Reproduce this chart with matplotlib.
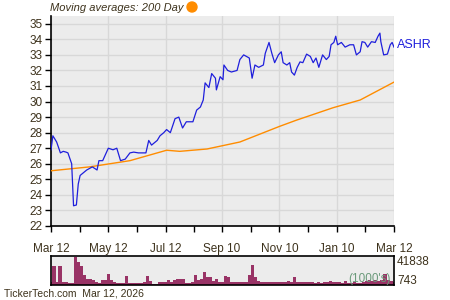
import matplotlib
matplotlib.use("Agg")
import matplotlib.pyplot as plt
import matplotlib.dates as mdates
import numpy as np
import pandas as pd

plt.rcParams['font.family'] = ['Liberation Sans', 'DejaVu Sans']

start = pd.Timestamp("2025-03-12")
end = pd.Timestamp("2026-03-12")

# Price series (day offset from start, closing price)
price_days = [0, 2, 6, 10, 13, 16, 18, 20, 22, 24, 27, 29, 31, 34, 38, 44, 49, 51, 55, 61,
              66, 70, 74, 79, 84, 88, 93, 101, 104, 107, 113, 116, 120, 123, 127, 132, 136, 140, 144, 151,
              155, 159, 162, 164, 168, 171, 175, 176, 180, 183, 184, 188, 192, 198, 201, 205, 211, 214, 217, 221,
              226, 228, 232, 235, 238, 242, 245, 247, 251, 254, 256, 259, 262, 265, 268, 272, 276, 279, 282, 285,
              289, 293, 296, 298, 301, 303, 305, 309, 313, 318, 322, 325, 329, 331, 334, 337, 341, 345, 348, 350,
              351, 354, 358, 361, 363, 365]
price_vals = [26.9, 27.8, 27.4, 26.7, 26.8, 26.75, 26.7, 26.35, 26.0, 23.3, 23.35, 24.7, 25.25, 25.4, 25.6, 25.8, 25.6, 26.2, 26.2, 27.0,
              26.9, 27.0, 26.2, 26.3, 26.7, 26.75, 26.7, 26.7, 27.5, 27.2, 27.5, 27.8, 28.0, 28.2, 28.0, 28.9, 29.0, 28.3, 28.7, 28.7,
              29.45, 29.65, 30.1, 31.2, 30.9, 31.8, 31.5, 30.75, 31.6, 31.4, 32.35, 32.0, 31.9, 32.0, 32.7, 33.0, 32.8, 31.5, 32.35, 32.2,
              32.35, 33.1, 33.8, 33.1, 32.5, 33.0, 33.2, 32.5, 32.35, 32.5, 31.9, 31.7, 32.2, 32.55, 32.5, 33.05, 32.9, 32.5, 32.8, 32.2,
              33.0, 32.7, 32.9, 33.65, 33.8, 34.2, 33.65, 33.8, 33.5, 33.65, 33.65, 33.0, 33.2, 33.85, 33.8, 33.5, 33.85, 33.8, 34.2, 34.4,
              33.85, 33.0, 33.05, 33.65, 33.8, 33.5]

# 200-day moving average
ma_days = [0, 41, 84, 123, 137, 166, 201, 243, 261, 300, 329, 365]
ma_vals = [25.55, 25.8, 26.2, 26.87, 26.8, 26.95, 27.4, 28.4, 28.8, 29.6, 30.1, 31.25]

# Volume (thousands), evenly sampled across the year
volume = [4500, 28400, 4500, 28400, 4500, 4500, 3000, 3000, 41838, 34400,
          28400, 14900, 9000, 9000, 7500, 4500, 3000, 7500, 7500, 16400,
          7500, 4500, 3000, 3000, 3000, 13400, 3000, 3000, 3000, 3000,
          3000, 4500, 13400, 6000, 1500, 1500, 4500, 4500, 4500, 7500,
          4500, 7500, 9000, 9000, 9000, 3000, 3000, 4500, 14900, 7500,
          9000, 19400, 12000, 12000, 6000, 9000, 4500, 4500, 13400, 12000,
          4500, 4500, 4500, 4500, 4500, 4500, 14900, 29900, 12000, 6000,
          4500, 4500, 4500, 4500, 4500, 4500, 4500, 4500, 4500, 6000,
          4500, 12000, 4500, 4500, 4500, 4500, 4500, 4500, 3000, 4500,
          3000, 4500, 4500, 6000, 4500, 4500, 4500, 3000, 6000, 3000,
          3000, 4500, 3000, 3000, 4500, 6000, 7500, 6000, 7500, 6000,
          7500, 16400, 7500, 6000, 4500]
vol_hi_label = "41838"
vol_lo_label = "743"

ticker = "ASHR"
tick_dates = ["2025-03-12", "2025-05-12", "2025-07-12", "2025-09-10", "2025-11-10", "2026-01-10", "2026-03-12"]
tick_labels = ["Mar 12", "May 12", "Jul 12", "Sep 10", "Nov 10", "Jan 10", "Mar 12"]
yticks = list(range(22, 36))

txt_col = "#3d321c"
bg = "#ececec"
grid_col = "#d8d8d8"

fig = plt.figure(figsize=(4.5, 3.0), dpi=100)
fig.patch.set_facecolor("white")

ax = fig.add_axes([51/450, 1-226/300, 343/450, 210/300])
ax.set_facecolor(bg)
pd_dates = [start + pd.Timedelta(days=d) for d in price_days]
ma_dates = [start + pd.Timedelta(days=d) for d in ma_days]
ax.plot(ma_dates, ma_vals, color="#ff8c00", lw=1.0, zorder=3)
ax.plot(pd_dates, price_vals, color="#1f1fdc", lw=0.9, zorder=4)
ax.set_xlim(start, end)
ax.set_ylim(22, 35.5)
ax.set_yticks(yticks)
tds = [pd.Timestamp(t) for t in tick_dates]
ax.set_xticks(tds)
ax.set_xticklabels(tick_labels)
mids = [tds[i] + (tds[i+1]-tds[i])/2 for i in range(len(tds)-1)]
ax.set_xticks(mids, minor=True)
ax.grid(True, which="major", color=grid_col, lw=1.0)
ax.set_axisbelow(True)
for s in ["top", "right"]:
    ax.spines[s].set_visible(False)
for s in ["left", "bottom"]:
    ax.spines[s].set_color("black")
    ax.spines[s].set_linewidth(1.2)
ax.tick_params(axis="y", direction="out", length=4, width=1, colors="black", labelcolor=txt_col, labelsize=8.5, pad=2)
ax.tick_params(axis="x", which="major", direction="out", length=4, width=1, colors="black", labelcolor=txt_col, labelsize=8.5, pad=8)
ax.tick_params(axis="x", which="minor", direction="out", length=4, width=1, colors="black")

fig.text(50/450, 1-8/300, "Moving averages: 200 Day", fontsize=8, style="italic", color=txt_col, va="center", ha="left")
fig.patches.append(matplotlib.patches.Ellipse((192/450, 1-7/300), 10/450, 10/300, transform=fig.transFigure,
                                              color="#ff8c00", zorder=5))
fig.text(397/450, 1-45/300, ticker, fontsize=9, color="#1f1fdc", va="center", ha="left")

axv = fig.add_axes([51/450, 1-285/300, 343/450, 29/300])
axv.set_facecolor(bg)
vdates = pd.date_range(start, end, periods=len(volume))
axv.bar(vdates, volume, width=3.3, color="#993366", align="center", zorder=2, linewidth=0)
axv.set_xlim(start, end)
axv.set_ylim(0, 43500)
axv.set_xticks([])
axv.set_yticks([])
for s in axv.spines.values():
    s.set_color("black")
    s.set_linewidth(1.2)
axv.text(0.99, 0.22, "(1000's)", transform=axv.transAxes, fontsize=8.5, color="#6a9a7a", ha="right", va="center", zorder=5)
fig.text(397/450, 1-262/300, vol_hi_label, fontsize=8.5, color=txt_col, va="center", ha="left")
fig.text(397/450, 1-281/300, vol_lo_label, fontsize=8.5, color=txt_col, va="center", ha="left")
fig.text(4/450, 1-294/300, "TickerTech.com  Mar 12, 2026", fontsize=7.5, color=txt_col, va="center", ha="left")

fig.savefig("out.png", dpi=100)
